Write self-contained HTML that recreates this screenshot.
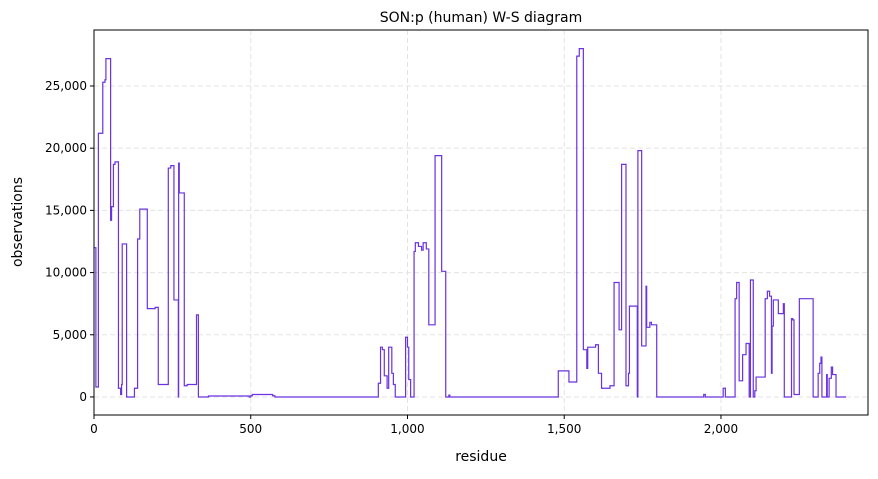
<!DOCTYPE html>
<html><head><meta charset="utf-8"><style>
body{margin:0;background:#fff;font-family:"Liberation Sans","DejaVu Sans",sans-serif}
svg text{font-family:"DejaVu Sans","Liberation Sans",sans-serif}
</style></head><body>
<svg id="chart" width="878" height="474" xmlns="http://www.w3.org/2000/svg">
<rect width="878" height="474" fill="#fff"/>
<g id="grid"></g>
<path id="series" fill="none" stroke="#6a32e0" stroke-width="1.2"/>
<rect x="94" y="30" width="774" height="385" fill="none" stroke="#000" stroke-width="1"/>
<g id="axes"></g>
<text x="481" y="22" text-anchor="middle" font-size="14">SON:p (human) W-S diagram</text>
<text x="481" y="461" text-anchor="middle" font-size="14">residue</text>
<text transform="translate(22,222) rotate(-90)" text-anchor="middle" font-size="14">observations</text>
</svg>
<script>
const residues=[0,6,14,28,35,38,53,56,62,67,78,85,88,90,104,129,139,146,170,195,205,237,245,255,269,270,272,288,297,327,333,365,495,500,505,570,577,585,907,914,920,926,935,940,950,955,961,994,1000,1004,1010,1021,1025,1035,1045,1050,1060,1068,1088,1109,1122,1132,1135,1140,1481,1515,1540,1548,1561,1572,1575,1600,1609,1619,1646,1659,1675,1683,1697,1705,1708,1733,1735,1747,1761,1763,1773,1778,1795,1945,1950,2007,2014,2045,2050,2058,2069,2080,2090,2094,2103,2108,2112,2141,2148,2155,2161,2163,2167,2183,2199,2202,2225,2229,2233,2250,2294,2310,2315,2319,2322,2337,2339,2345,2352,2356,2367,2380,2399,2422];
const values=[12000,800,21200,25300,25500,27200,14200,15300,18700,18900,700,200,1000,12300,0,700,12700,15100,7100,7200,1000,18400,18600,7800,0,18800,16400,900,1000,6600,0,80,0,100,200,100,0,0,1100,4000,3800,1700,700,4000,1900,1000,0,4800,4000,1400,0,11700,12400,12100,11800,12400,11900,5800,19400,10100,0,150,0,0,2100,1200,27400,28000,3800,2300,4000,4200,1900,700,900,9200,5400,18700,900,1900,7300,0,19800,4100,8900,5600,6000,5800,0,200,0,700,0,7900,9200,1300,3400,4300,0,9400,0,500,1600,7900,8500,8100,1900,5700,7800,6700,7500,0,6300,6200,200,7900,0,1900,2700,3200,0,1800,0,1500,2400,1800,0,0];
const xTicks=[0,500,1000,1500,2000];
const yTicks=[0,5000,10000,15000,20000,25000];
const X0=94,X1=868,Y0=30,Y1=415;
const xMin=0,xMax=2469,yMin=-1450,yMax=29500;
const sx=v=>X0+(v-xMin)/(xMax-xMin)*(X1-X0);
const sy=v=>Y1-(v-yMin)/(yMax-yMin)*(Y1-Y0);
const NS="http://www.w3.org/2000/svg";
const grid=document.getElementById('grid'),axes=document.getElementById('axes');
const fmt=n=>n.toLocaleString('en-US');
xTicks.forEach(t=>{
 const g=document.createElementNS(NS,'line');
 
 
 g.setAttribute('x1',sx(t));g.setAttribute('x2',sx(t));g.setAttribute('y1',Y0);g.setAttribute('y2',Y1);
 g.setAttribute('stroke','#e3e3e3');g.setAttribute('stroke-dasharray','5,3');grid.appendChild(g);
 const tk=document.createElementNS(NS,'line');
 
 
 tk.setAttribute('x1',sx(t));tk.setAttribute('x2',sx(t));tk.setAttribute('y1',Y1);tk.setAttribute('y2',Y1+4);tk.setAttribute('stroke','#000');axes.appendChild(tk);
 const tx=document.createElementNS(NS,'text');
 
 
 tx.setAttribute('x',sx(t));tx.setAttribute('y',Y1+18);tx.setAttribute('text-anchor','middle');tx.setAttribute('font-size','12');tx.textContent=fmt(t);axes.appendChild(tx);
});
yTicks.forEach(t=>{
 const g=document.createElementNS(NS,'line');
 
 
 g.setAttribute('x1',X0);g.setAttribute('x2',X1);g.setAttribute('y1',sy(t));g.setAttribute('y2',sy(t));
 g.setAttribute('stroke','#e3e3e3');g.setAttribute('stroke-dasharray','5,3');grid.appendChild(g);
 const tk=document.createElementNS(NS,'line');
 
 
 tk.setAttribute('x1',X0-4);tk.setAttribute('x2',X0);tk.setAttribute('y1',sy(t));tk.setAttribute('y2',sy(t));tk.setAttribute('stroke','#000');axes.appendChild(tk);
 const tx=document.createElementNS(NS,'text');
 
 
 tx.setAttribute('x',X0-7);tx.setAttribute('y',sy(t)+4);tx.setAttribute('text-anchor','end');tx.setAttribute('font-size','12');tx.textContent=fmt(t);axes.appendChild(tx);
});
let d='';
for(let i=0;i<residues.length;i++){
 const x=sx(residues[i]),y=sy(values[i]);
 if(i===0)d+='M'+x+','+y;else d+='H'+x+'V'+y;
}
document.getElementById('series').setAttribute('d',d);
</script>
</body></html>
